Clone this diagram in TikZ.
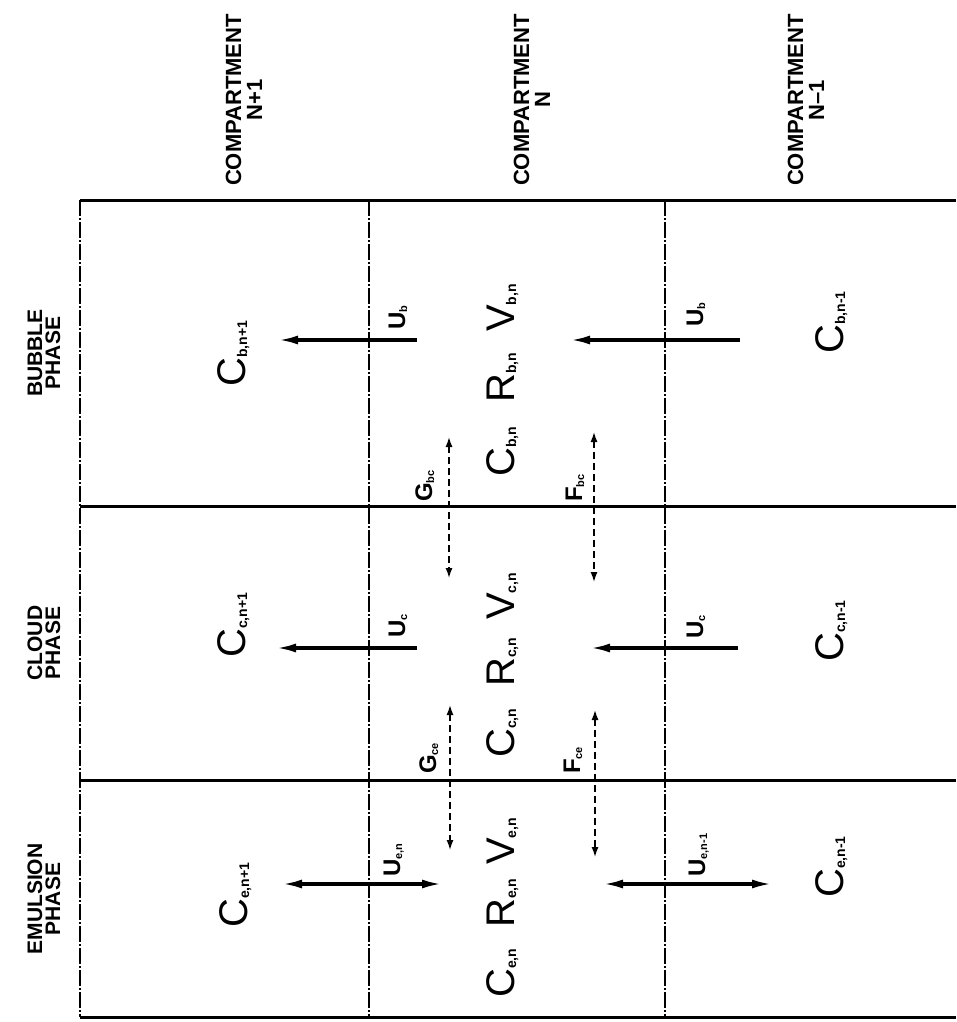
\documentclass[tikz,border=0pt]{standalone}
\usepackage{fontspec}
\setmainfont{Liberation Sans}
\usetikzlibrary{arrows.meta}
\newcommand\bigq[2]{{\fontsize{40}{40}\selectfont #1}\raisebox{-2pt}{\fontsize{14}{14}\selectfont\bfseries #2}}
\newcommand\midq[2]{{\fontsize{24}{24}\selectfont\bfseries #1}\raisebox{-2pt}{\fontsize{11}{11}\selectfont\bfseries #2}}
\begin{document}
\begin{tikzpicture}[x=1pt,y=-1pt,
  hdr/.style={rotate=90, align=center, font=\fontsize{22}{21}\selectfont\bfseries, inner sep=0pt},
  phase/.style={rotate=90, align=center, font=\fontsize{21}{18}\selectfont\bfseries, inner sep=0pt},
  qty/.style={rotate=90, anchor=base west, inner sep=0pt},
  frameline/.style={line width=3pt},
  dashdot/.style={line width=1.3pt, dash pattern=on 16pt off 2pt on 2pt off 2pt},
  flow/.style={line width=3.2pt, -{Latex[length=20pt,width=9pt]}},
  flowboth/.style={line width=3.2pt, {Latex[length=20pt,width=9pt]}-{Latex[length=20pt,width=9pt]}},
  xch/.style={line width=1.4pt, dash pattern=on 7pt off 4pt, {Latex[length=10pt,width=7pt]}-{Latex[length=10pt,width=7pt]}}]
\useasboundingbox (0,0) rectangle (956,1022);

% frame coordinates
\coordinate (tl) at (80,200);   \coordinate (tr) at (956,200);
\coordinate (bl) at (80,1017);  \coordinate (br) at (956,1017);
\coordinate (m1l) at (80,506);  \coordinate (m1r) at (956,506);
\coordinate (m2l) at (80,780);  \coordinate (m2r) at (956,780);
\coordinate (c1t) at (369,200); \coordinate (c1b) at (369,1017);
\coordinate (c2t) at (665,200); \coordinate (c2b) at (665,1017);

\draw[frameline] (tl) -- (tr);
\draw[frameline] (bl) -- (br);
\draw[frameline] (m1l) -- (m1r);
\draw[frameline] (m2l) -- (m2r);
\draw[dashdot] (tl) -- (bl);
\draw[dashdot] (c1t) -- (c1b);
\draw[dashdot] (c2t) -- (c2b);

% headers
\node[hdr] (hA) at (244,100) {COMPARTMENT\\N+1};
\node[hdr] (hB) at (532,100) {COMPARTMENT\\N};
\node[hdr] (hC) at (806,100) {COMPARTMENT\\N–1};
\node[phase] (pB) at (44,353) {BUBBLE\\PHASE};
\node[phase] (pC) at (44,643) {CLOUD\\PHASE};
\node[phase] (pE) at (44,899) {EMULSION\\PHASE};

% bubble phase
\node[qty] (cbp) at (245,387) {\bigq{C}{b,n+1}};
\node[qty] (ub1) at (405,330) {\midq{U}{b}};
\coordinate (ub1s) at (417,340); \coordinate (ub1e) at (278,340);
\draw[flow] (ub1s) -- (ub1e);
\node[qty] (vb) at (514,332) {\bigq{V}{b,n}};
\node[qty] (rb) at (514,403) {\bigq{R}{b,n}};
\node[qty] (cb) at (514,477) {\bigq{C}{b,n}};
\node[qty] (ub2) at (703,327) {\midq{U}{b}};
\coordinate (ub2s) at (740,340); \coordinate (ub2e) at (570,340);
\draw[flow] (ub2s) -- (ub2e);
\node[qty] (cbm) at (843,354) {\bigq{C}{b,n-1}};

% cloud phase
\node[qty] (ccp) at (245,658) {\bigq{C}{c,n+1}};
\node[qty] (uc1) at (405,638) {\midq{U}{c}};
\coordinate (uc1s) at (417,648); \coordinate (uc1e) at (276,648);
\draw[flow] (uc1s) -- (uc1e);
\node[qty] (vc) at (514,620) {\bigq{V}{c,n}};
\node[qty] (rc) at (514,687) {\bigq{R}{c,n}};
\node[qty] (cc) at (514,758) {\bigq{C}{c,n}};
\node[qty] (uc2) at (703,639) {\midq{U}{c}};
\coordinate (uc2s) at (738,648); \coordinate (uc2e) at (590,648);
\draw[flow] (uc2s) -- (uc2e);
\node[qty] (ccm) at (843,662) {\bigq{C}{c,n-1}};

% emulsion phase
\node[qty] (cep) at (247,928) {\bigq{C}{e,n+1}};
\node[qty] (ue1) at (400,877) {\midq{U}{e,n}};
\coordinate (ue1a) at (282,884); \coordinate (ue1b) at (442,884);
\draw[flowboth] (ue1a) -- (ue1b);
\node[qty] (ve) at (514,865) {\bigq{V}{e,n}};
\node[qty] (re) at (514,928) {\bigq{R}{e,n}};
\node[qty] (ce) at (514,998) {\bigq{C}{e,n}};
\node[qty] (ue2) at (705,877) {\midq{U}{e,n-1}};
\coordinate (ue2a) at (603,884); \coordinate (ue2b) at (772,884);
\draw[flowboth] (ue2a) -- (ue2b);
\node[qty] (cem) at (843,898) {\bigq{C}{e,n-1}};

% exchange between phases
\coordinate (gbt) at (449,437); \coordinate (gbb) at (449,578);
\draw[xch] (gbt) -- (gbb);
\node[qty] (gbc) at (432,502) {\midq{G}{bc}};
\coordinate (fbt) at (594,432); \coordinate (fbb) at (594,582);
\draw[xch] (fbt) -- (fbb);
\node[qty] (fbc) at (582,502) {\midq{F}{bc}};
\coordinate (gct) at (450,705); \coordinate (gcb) at (450,850);
\draw[xch] (gct) -- (gcb);
\node[qty] (gce) at (436,774) {\midq{G}{ce}};
\coordinate (fct) at (595,710); \coordinate (fcb) at (595,857);
\draw[xch] (fct) -- (fcb);
\node[qty] (fce) at (580,774) {\midq{F}{ce}};
\end{tikzpicture}
\end{document}
